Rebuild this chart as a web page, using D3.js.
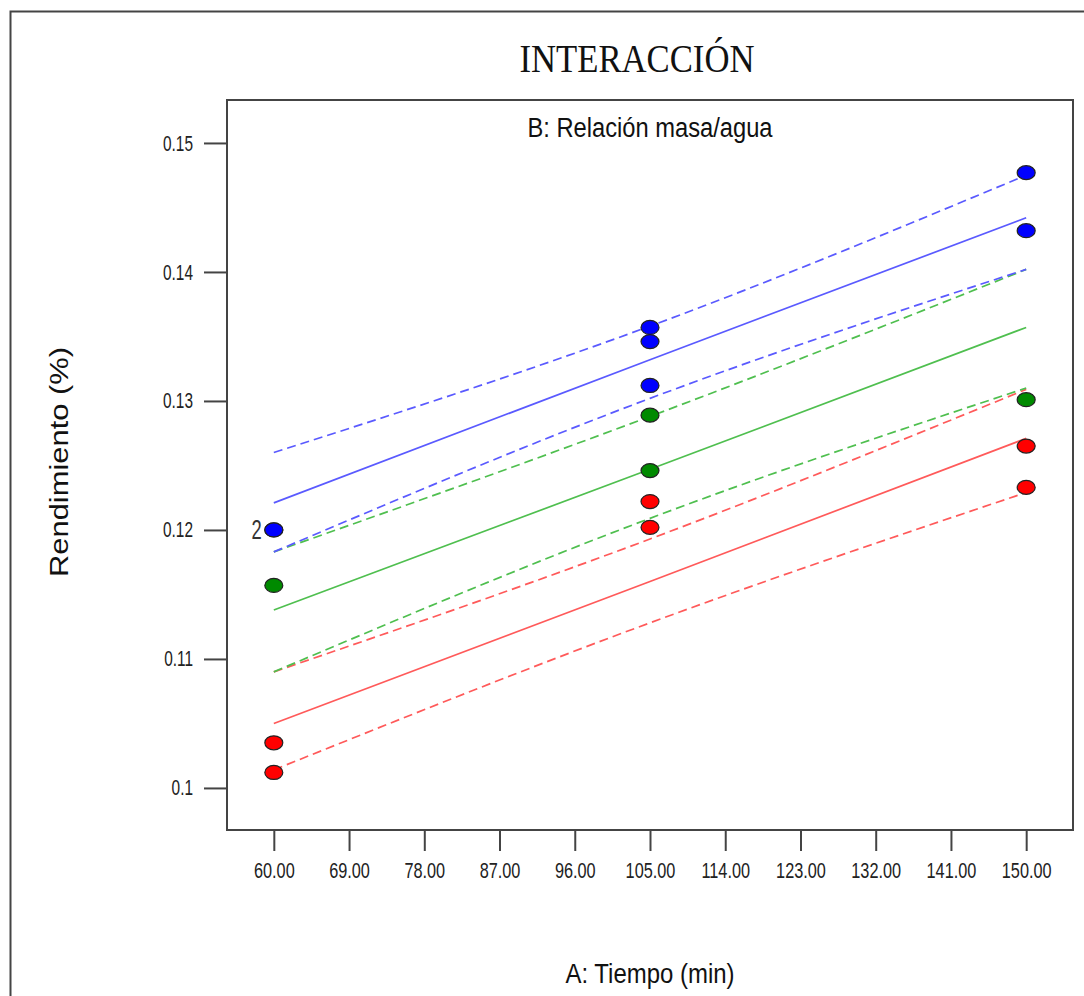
<!DOCTYPE html>
<html>
<head>
<meta charset="utf-8">
<script src="https://cdn.jsdelivr.net/npm/d3@7"></script>
<style>
  body { margin: 0; background: #fff; }
  svg { display: block; }
</style>
</head>
<body>
<svg id="chart" width="1084" height="996"></svg>
<script>
// Factor levels (A: Tiempo) where fit and bands were evaluated
const times = [60, 105, 150];

// Fitted lines and confidence bands for each level of B
const blueFit   = [0.1221, 0.1332, 0.1442];
const blueUpper = [0.1260, 0.1358, 0.1475];
const blueLower = [0.1183, 0.1302, 0.1402];

const greenFit   = [0.1138, 0.1247, 0.1357];
const greenUpper = [0.1183, 0.1288, 0.1402];
const greenLower = [0.1090, 0.1209, 0.1310];

const redFit   = [0.1050, 0.1160, 0.1271];
const redUpper = [0.1090, 0.1193, 0.1309];
const redLower = [0.1014, 0.1128, 0.1229];

// Observed design points [tiempo, rendimiento]
const blueObs  = [[60, 0.1200], [60, 0.1200], [105, 0.1357], [105, 0.1346], [105, 0.1312], [150, 0.1477], [150, 0.1432]];
const greenObs = [[60, 0.1157], [105, 0.1289], [105, 0.1246], [150, 0.1301]];
const redObs   = [[60, 0.1035], [60, 0.1012], [105, 0.1222], [105, 0.1202], [150, 0.1265], [150, 0.1233]];

// Axis ticks
const xTicks = [60, 69, 78, 87, 96, 105, 114, 123, 132, 141, 150];
const yTicks = [0.10, 0.11, 0.12, 0.13, 0.14, 0.15];
const yTickLabels = ['0.1', '0.11', '0.12', '0.13', '0.14', '0.15'];

const title = 'INTERACCIÓN';
const subtitle = 'B: Relación masa/agua';
const xLabel = 'A: Tiempo (min)';
const yLabel = 'Rendimiento (%)';

const series = [
  { fit: redFit, upper: redUpper, lower: redLower, obs: redObs, line: '#ff5a5a', dot: '#ff0000' },
  { fit: greenFit, upper: greenUpper, lower: greenLower, obs: greenObs, line: '#4fbf4f', dot: '#008a00' },
  { fit: blueFit, upper: blueUpper, lower: blueLower, obs: blueObs, line: '#5a5aff', dot: '#0000ff' }
];

const SANS = '"Liberation Sans", Arial, sans-serif';
const SERIF = '"Liberation Serif", "Times New Roman", serif';

const box = { left: 227, top: 100, right: 1073, bottom: 830 };

const svg = d3.select('#chart');

// Outer frame
svg.append('rect')
  .attr('x', 10.5).attr('y', 11.5)
  .attr('width', 1090).attr('height', 1000)
  .attr('fill', 'none')
  .attr('stroke', '#444')
  .attr('stroke-width', 2);

// Scales
const x = d3.scaleLinear().domain([54.4, 155.6]).range([box.left, box.right]);
const y = d3.scaleLinear().domain([0.09674, 0.15333]).range([box.bottom, box.top]);

// squeeze text horizontally (the reference is stretched vertically)
function squeeze(sel, k) {
  sel.each(function() {
    const len = this.getComputedTextLength();
    d3.select(this).attr('textLength', len * k).attr('lengthAdjust', 'spacingAndGlyphs');
  });
}

// Axes
const xAxis = svg.append('g')
  .attr('transform', `translate(0, ${box.bottom})`)
  .call(d3.axisBottom(x).tickValues(xTicks).tickFormat(d3.format('.2f')).tickSize(21).tickPadding(11));

const yAxis = svg.append('g')
  .attr('transform', `translate(${box.left}, 0)`)
  .call(d3.axisLeft(y).tickValues(yTicks).tickFormat((d, i) => yTickLabels[i]).tickSize(23).tickPadding(11));

[xAxis, yAxis].forEach(ax => {
  ax.select('.domain').remove();
  ax.selectAll('line').attr('stroke', '#444').attr('stroke-width', 2);
  ax.selectAll('text')
    .attr('fill', '#222')
    .style('font-family', SANS)
    .style('font-size', '22px');
});
squeeze(xAxis.selectAll('text'), 0.74);
squeeze(yAxis.selectAll('text'), 0.70);

// Plot box
svg.append('rect')
  .attr('x', box.left).attr('y', box.top)
  .attr('width', box.right - box.left).attr('height', box.bottom - box.top)
  .attr('fill', 'none')
  .attr('stroke', '#444')
  .attr('stroke-width', 2);

// Lines
const straight = d3.line().x(d => x(d[0])).y(d => y(d[1]));
const curved = d3.line().x(d => x(d[0])).y(d => y(d[1])).curve(d3.curveNatural);
const pts = vals => times.map((t, i) => [t, vals[i]]);

series.forEach(s => {
  [s.upper, s.lower].forEach(band => {
    svg.append('path')
      .datum(pts(band))
      .attr('fill', 'none')
      .attr('stroke', s.line)
      .attr('stroke-width', 1.7)
      .attr('stroke-dasharray', '9,5')
      .attr('d', curved);
  });
  svg.append('path')
    .datum(pts(s.fit))
    .attr('fill', 'none')
    .attr('stroke', s.line)
    .attr('stroke-width', 1.7)
    .attr('d', straight);
});

// Design points
series.forEach(s => {
  svg.append('g')
    .selectAll('ellipse')
    .data(s.obs)
    .enter()
    .append('ellipse')
    .attr('cx', d => x(d[0]))
    .attr('cy', d => y(d[1]))
    .attr('rx', 9)
    .attr('ry', 7)
    .attr('fill', s.dot)
    .attr('stroke', '#222')
    .attr('stroke-width', 1.2);

  // replicate counts
  const counts = d3.rollups(s.obs, v => v.length, d => d[0] + '|' + d[1]).filter(c => c[1] > 1);
  const repl = svg.append('g')
    .selectAll('text')
    .data(counts)
    .enter()
    .append('text')
    .attr('x', d => x(+d[0].split('|')[0]) - 12)
    .attr('y', d => y(+d[0].split('|')[1]) + 9)
    .attr('text-anchor', 'end')
    .attr('fill', '#333')
    .style('font-family', SANS)
    .style('font-size', '27px')
    .text(d => d[1]);
  squeeze(repl, 0.68);
});

// Titles
svg.append('text')
  .attr('x', 637).attr('y', 72)
  .attr('text-anchor', 'middle')
  .attr('fill', '#111')
  .style('font-family', SERIF)
  .style('font-size', '40px')
  .attr('textLength', 235).attr('lengthAdjust', 'spacingAndGlyphs')
  .text(title);

svg.append('text')
  .attr('x', 650).attr('y', 137)
  .attr('text-anchor', 'middle')
  .attr('fill', '#111')
  .style('font-family', SANS)
  .style('font-size', '27px')
  .attr('textLength', 245).attr('lengthAdjust', 'spacingAndGlyphs')
  .text(subtitle);

svg.append('text')
  .attr('x', 650).attr('y', 983)
  .attr('text-anchor', 'middle')
  .attr('fill', '#111')
  .style('font-family', SANS)
  .style('font-size', '27px')
  .attr('textLength', 169).attr('lengthAdjust', 'spacingAndGlyphs')
  .text(xLabel);

svg.append('text')
  .attr('transform', 'translate(68, 462) rotate(-90)')
  .attr('text-anchor', 'middle')
  .attr('fill', '#111')
  .style('font-family', SANS)
  .style('font-size', '25px')
  .attr('textLength', 230).attr('lengthAdjust', 'spacingAndGlyphs')
  .text(yLabel);
</script>
</body>
</html>
